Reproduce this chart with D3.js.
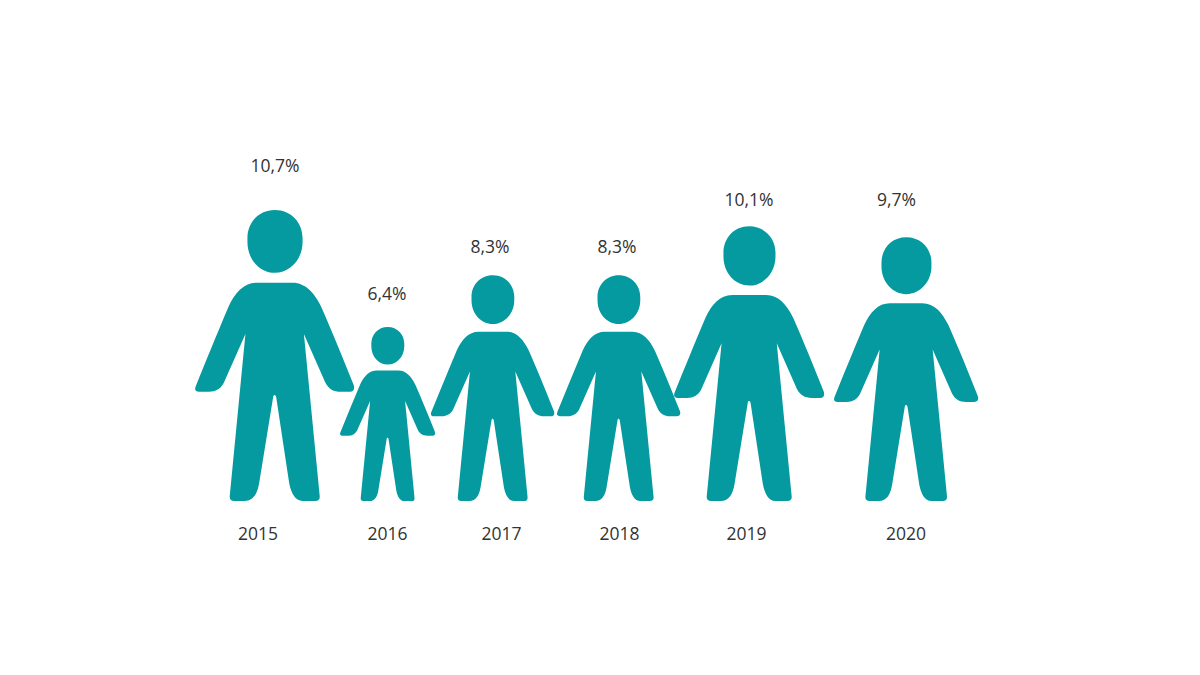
<!DOCTYPE html>
<html lang="en">
<head>
    <meta charset="UTF-8">
    <title>Pictogram 2015-2020</title>
    <script src="https://d3js.org/d3.v7.min.js"></script>
    <style>
        html, body { margin: 0; background: #fff; }
        svg { display: block; }
        text { font-family: "Open Sans", sans-serif; font-size: 17.5px; fill: #333; }
    </style>
</head>
<body>
    <svg id="chart" width="1200" height="675"></svg>
    <script>
        const years = ["2015", "2016", "2017", "2018", "2019", "2020"];
        const values = [10.7, 6.4, 8.3, 8.3, 10.1, 9.7];

        // person icon, drawn in a box 871 units high with feet at the bottom
        const iconHeight = 871;
        const iconCentre = 268;
        const iconTop = 32;
        const personPath =
            // head
            "M269,32 C318,32 352,70 352,116 L352,128 C352,180 314,220 269,220 C224,220 187,180 187,128 L187,116 C187,70 220,32 269,32 Z " +
            // body, clockwise from the left shoulder
            "M215,250 L322,250 C362,250 388,282 408,322 C440,395 475,480 505,556 C509,569 504,576 494,576 L466,576 C446,576 430,568 420,548 " +
            "L356,403 L403,885 C405,898 400,903 390,903 L352,903 C330,903 318,880 312,850 L273,592 C271,584 265,584 264,592 " +
            "L222,850 C217,880 205,903 178,903 L148,903 C138,903 133,898 134,888 L181,403 L116,550 C106,568 92,576 72,576 " +
            "L42,576 C32,576 28,570 32,560 C62,485 97,400 130,322 C150,280 175,250 215,250 Z";

        const svg = d3.select("#chart");
        const comma = d3.formatLocale({ decimal: ",", thousands: ".", grouping: [3], currency: ["", ""] });
        const fmt = v => comma.format(".1f")(v) + "%";

        const figureX = d3.scaleOrdinal().domain(years).range([274.5, 387.5, 492.5, 618.5, 749, 906]);
        const valueX = d3.scaleOrdinal().domain(years).range([275, 387, 490, 617, 749, 896.5]);
        const valueY = d3.scaleOrdinal().domain(years).range([172, 300, 253, 253, 206, 206]);
        const yearX = d3.scaleOrdinal().domain(years).range([257.5, 387, 501, 619, 746, 905.5]);
        const y = d3.scaleLinear().domain([0, 10.7]).range([501, 210]);

        const data = years.map((year, i) => ({ year, value: values[i] }));

        svg.append("g").selectAll("path").data(data).enter().append("path")
            .attr("d", personPath)
            .attr("fill", "#059aa0")
            .attr("transform", d => {
                const k = (y(0) - y(d.value)) / iconHeight;
                return `translate(${figureX(d.year)},${y(d.value)}) scale(${k}) translate(${-iconCentre},${-iconTop})`;
            });

        svg.append("g").selectAll("text").data(data).enter().append("text")
            .attr("x", d => valueX(d.year))
            .attr("y", d => valueY(d.year))
            .attr("text-anchor", "middle")
            .text(d => fmt(d.value));

        const axis = svg.append("g")
            .attr("transform", "translate(0,520)")
            .call(d3.axisBottom(yearX).tickSize(0).tickPadding(0));
        axis.select(".domain").remove();
        axis.selectAll("text")
            .attr("dy", null)
            .attr("y", 20)
            .style("font-family", "'Open Sans', sans-serif")
            .style("font-size", "17.5px");
    </script>
</body>
</html>
